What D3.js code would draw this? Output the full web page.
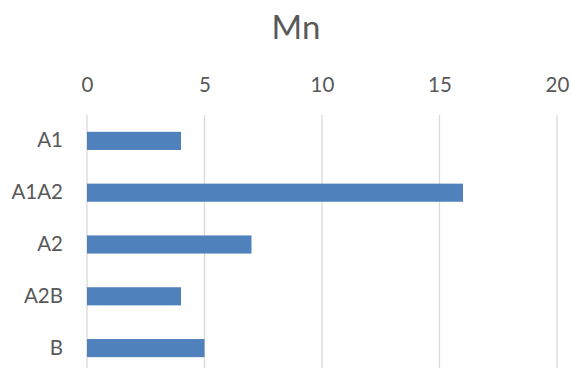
<!DOCTYPE html>
<html><head><meta charset="utf-8">
<script src="https://cdn.jsdelivr.net/npm/d3@7"></script>
<style>body{margin:0;background:#fff}svg{display:block}</style>
</head><body><svg id="c" width="571" height="368"></svg>
<script>
const categories = ["A1","A1A2","A2","A2B","B"];
const values = [4,16,7,4,5];
const tickValues = [0,5,10,15,20];
const title = "Mn";

const svg = d3.select("#c");
const font = "Lato, 'Open Sans', sans-serif";
const x = d3.scaleLinear().domain([0,20]).range([87,557]);
const y = d3.scaleBand().domain(categories).range([115,374]).paddingInner(0.65).paddingOuter(0.325);

svg.append("text").attr("x",296).attr("y",39).attr("text-anchor","middle")
  .attr("font-family",font).attr("font-size",33).attr("fill","#595959").text(title);

const grid = svg.append("g");
grid.selectAll("line").data(tickValues).join("line")
  .attr("x1",d=>x(d)).attr("x2",d=>x(d)).attr("y1",115).attr("y2",374)
  .attr("stroke","#d9d9d9").attr("stroke-width",1.3);

const ax = svg.append("g").attr("transform","translate(0,92)")
  .call(d3.axisTop(x).tickValues(tickValues).tickSize(0).tickPadding(0));
ax.select(".domain").remove();
ax.selectAll("text").attr("font-family",font).attr("font-size",20.5).attr("fill","#595959");

svg.append("g").selectAll("rect").data(values).join("rect")
  .attr("x",x(0)).attr("y",(d,i)=>y(categories[i]))
  .attr("width",d=>x(d)-x(0)).attr("height",y.bandwidth())
  .attr("fill","#4f81bd");

const ay = svg.append("g").attr("transform","translate(87,0)")
  .call(d3.axisLeft(y).tickSize(0).tickPadding(24));
ay.select(".domain").remove();
ay.selectAll("text").attr("font-family",font).attr("font-size",20.5).attr("fill","#595959");
</script></body></html>
